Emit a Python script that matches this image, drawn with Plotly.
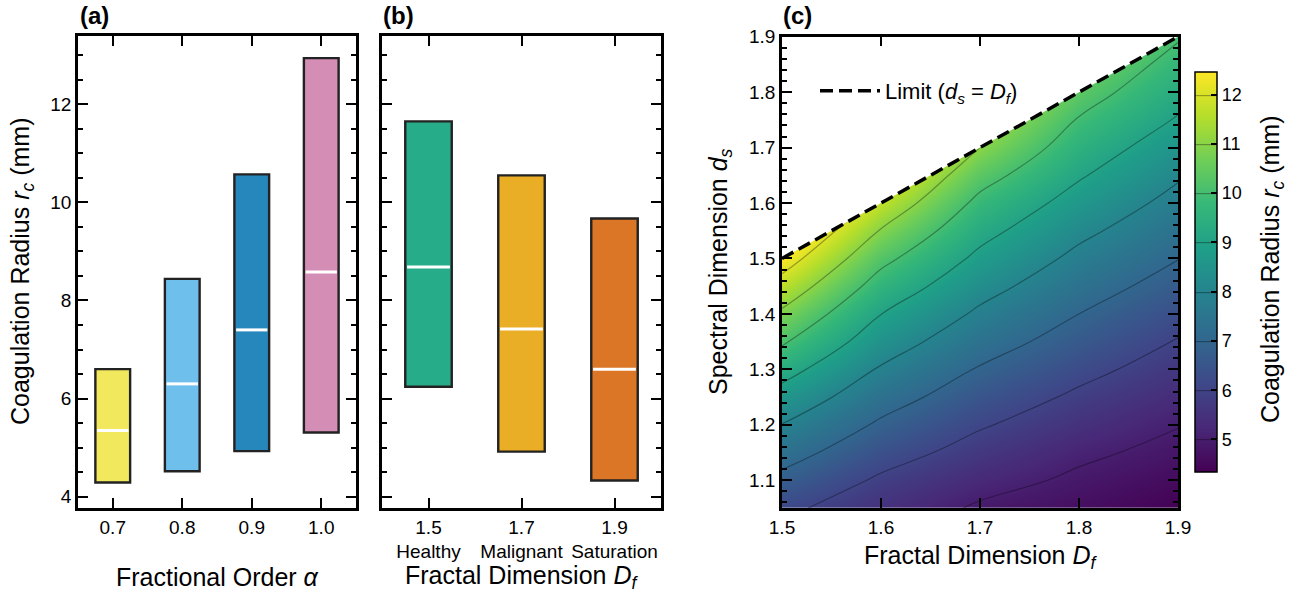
import plotly.graph_objects as go

# ---------------- data ----------------
# Panel (a): fractional order alpha
alpha_vals = [0.7, 0.8, 0.9, 1.0]
alpha_labels = ["0.7", "0.8", "0.9", "1.0"]
alpha_low = [4.29, 4.52, 4.93, 5.31]
alpha_high = [6.60, 8.44, 10.57, 12.94]
alpha_med = [5.35, 6.30, 7.40, 8.58]
alpha_colors = ["rgba(240,228,66,0.85)", "rgba(86,180,233,0.85)",
                "rgba(0,114,178,0.85)", "rgba(204,121,167,0.85)"]

# Panel (b): fractal dimension
df_vals = [1.5, 1.7, 1.9]
df_labels = ["1.5<br>Healthy", "1.7<br>Malignant", "1.9<br>Saturation"]
df_low = [6.24, 4.92, 4.33]
df_high = [11.65, 10.55, 9.67]
df_med = [8.68, 7.42, 6.60]
df_colors = ["rgba(0,158,115,0.85)", "rgba(230,159,0,0.85)", "rgba(213,94,0,0.85)"]

# Panel (c): coagulation radius map r_c(D_f, d_s); the part above d_s = D_f is
# hidden in the chart (values just above the limit are estimated continuations)
grid_df = [1.5, 1.6, 1.7, 1.8, 1.9]
grid_ds = [1.05, 1.10, 1.15, 1.20, 1.25, 1.30, 1.35, 1.40, 1.45,
           1.50, 1.55, 1.60, 1.65, 1.70, 1.75, 1.80, 1.85, 1.90]
rc_grid = [
    [6.18, 5.50, 4.90, 4.65, 4.34],
    [6.77, 5.87, 5.28, 4.87, 4.57],
    [7.37, 6.37, 5.67, 5.14, 4.80],
    [7.98, 6.87, 6.08, 5.50, 5.03],
    [8.64, 7.38, 6.50, 5.86, 5.34],
    [9.35, 7.91, 6.93, 6.23, 5.64],
    [10.12, 8.46, 7.39, 6.62, 5.95],
    [10.85, 9.01, 7.85, 7.00, 6.30],
    [11.63, 9.61, 8.32, 7.39, 6.66],
    [12.46, 10.24, 8.80, 7.79, 7.02],
    [13.25, 10.94, 9.28, 8.20, 7.38],
    [14.05, 11.70, 9.77, 8.65, 7.73],
    [None, 12.40, 10.35, 9.09, 8.10],
    [None, 13.10, 11.00, 9.51, 8.51],
    [None, None, 11.55, 9.94, 8.93],
    [None, None, 12.20, 10.40, 9.31],
    [None, None, None, 10.80, 9.69],
    [None, None, None, 11.25, 10.08],
]
rc_min, rc_max = 4.34, 12.46
limit_df = [1.5, 1.9]

# ---------------- styling ----------------
FONT = "Liberation Sans, Arial, sans-serif"
TICK_FS = 19
TITLE_FS = 25
W, H = 1301, 596
EDGE = "#222222"

fig = go.Figure()

# Panel (a) bars
BW_A = 0.05
fig.add_trace(go.Bar(
    x=alpha_vals, base=alpha_low,
    y=[h - l for h, l in zip(alpha_high, alpha_low)],
    width=BW_A, marker=dict(color=alpha_colors, line=dict(color=EDGE, width=2.4)),
    xaxis="x", yaxis="y", showlegend=False, hoverinfo="skip"))
mx, my = [], []
for c, m in zip(alpha_vals, alpha_med):
    mx += [c - BW_A * 0.45, c + BW_A * 0.45, None]
    my += [m, m, None]
fig.add_trace(go.Scatter(x=mx, y=my, mode="lines", line=dict(color="white", width=3),
                         xaxis="x", yaxis="y", showlegend=False, hoverinfo="skip"))

# Panel (b) bars
BW_B = 0.1
fig.add_trace(go.Bar(
    x=df_vals, base=df_low,
    y=[h - l for h, l in zip(df_high, df_low)],
    width=BW_B, marker=dict(color=df_colors, line=dict(color=EDGE, width=2.4)),
    xaxis="x2", yaxis="y2", showlegend=False, hoverinfo="skip"))
mx, my = [], []
for c, m in zip(df_vals, df_med):
    mx += [c - BW_B * 0.46, c + BW_B * 0.46, None]
    my += [m, m, None]
fig.add_trace(go.Scatter(x=mx, y=my, mode="lines", line=dict(color="white", width=3),
                         xaxis="x2", yaxis="y2", showlegend=False, hoverinfo="skip"))

# Panel (c) contour map
fig.add_trace(go.Contour(
    x=grid_df, y=grid_ds, z=rc_grid, connectgaps=True,
    colorscale="Viridis", zmin=rc_min, zmax=rc_max,
    contours=dict(start=5, end=12, size=1, coloring="heatmap", showlines=True),
    line=dict(color="rgba(0,0,0,0.32)", width=1.2, smoothing=1.3),
    xaxis="x3", yaxis="y3", showlegend=False, hoverinfo="skip",
    colorbar=dict(
        x=1195 / W, xanchor="left", xpad=0, ypad=0,
        y=1 - 272 / H, yanchor="middle",
        len=400, lenmode="pixels", thickness=22, thicknessmode="pixels",
        outlinewidth=1.5, outlinecolor="black",
        tickvals=[5, 6, 7, 8, 9, 10, 11, 12],
        ticks="inside", ticklen=6, tickwidth=1.5, tickcolor="black",
        tickfont=dict(family=FONT, size=18, color="black"),
    ),
))
# blank out the region above the limit d_s = D_f
fig.add_trace(go.Scatter(
    x=[limit_df[0], limit_df[1], limit_df[0], limit_df[0]],
    y=[limit_df[0], limit_df[1], limit_df[1], limit_df[0]],
    fill="toself", fillcolor="white", mode="none",
    xaxis="x3", yaxis="y3", showlegend=False, hoverinfo="skip"))
fig.add_trace(go.Scatter(
    x=limit_df, y=limit_df, mode="lines",
    line=dict(color="black", width=3.5, dash="13px,6px"),
    name="Limit (<i>d<sub>s</sub></i> = <i>D<sub>f</sub></i>)",
    xaxis="x3", yaxis="y3", showlegend=True, hoverinfo="skip"))

# ---------------- axes ----------------
ydom = [1 - 508 / H, 1 - 36 / H]

def ax(**kw):
    base = dict(showline=True, linewidth=2.5, linecolor="black", mirror="ticks",
                ticks="inside", ticklen=10, tickwidth=2, tickcolor="black",
                showgrid=False, zeroline=False, automargin=False,
                tickfont=dict(family=FONT, size=TICK_FS, color="black"))
    base.update(kw)
    return base

minor_y = dict(ticks="inside", dtick=0.5, ticklen=5, tickwidth=1.5,
               tickcolor="black", showgrid=False)

fig.update_layout(
    width=W, height=H,
    margin=dict(l=0, r=0, t=0, b=0, autoexpand=False),
    paper_bgcolor="white", plot_bgcolor="white",
    font=dict(family=FONT, color="black"),
    barmode="overlay",
    xaxis=ax(domain=[78 / W, 356 / W], range=[0.65, 1.05],
             tickvals=alpha_vals, ticktext=alpha_labels, anchor="y"),
    yaxis=ax(domain=ydom, range=[3.77, 13.39], tick0=0, dtick=2,
             minor=minor_y, anchor="x"),
    xaxis2=ax(domain=[382 / W, 661 / W], range=[1.4, 2.0],
              tickvals=df_vals, ticktext=df_labels, anchor="y2"),
    yaxis2=ax(domain=ydom, matches="y", tick0=0, dtick=2, showticklabels=False,
              minor=minor_y, anchor="x2"),
    xaxis3=ax(domain=[782 / W, 1178 / W], range=[1.5, 1.9], tick0=1.5, dtick=0.1,
              anchor="y3"),
    yaxis3=ax(domain=[1 - 508 / H, 1 - 36.7 / H], range=[1.05, 1.9], tick0=1.0, dtick=0.1,
              minor=dict(ticks="inside", dtick=0.02, ticklen=5, tickwidth=1.5,
                         tickcolor="black", showgrid=False),
              anchor="x3"),
    legend=dict(x=815 / W, y=1 - 91 / H, xanchor="left", yanchor="middle",
                itemwidth=60,
                bgcolor="rgba(0,0,0,0)", borderwidth=0,
                font=dict(family=FONT, size=22, color="black")),
)

# ---------------- titles / panel labels ----------------
def ann(text, x, y, size=TITLE_FS, angle=0, bold=False, xanchor="center"):
    fig.add_annotation(text=f"<b>{text}</b>" if bold else text,
                       x=x / W, y=1 - y / H, xref="paper", yref="paper",
                       xanchor=xanchor, yanchor="middle", textangle=angle,
                       showarrow=False, font=dict(family=FONT, size=size, color="black"))

ann("(a)", 78, 16, size=24, bold=True, xanchor="left")
ann("(b)", 381, 16, size=24, bold=True, xanchor="left")
ann("(c)", 781, 16, size=24, bold=True, xanchor="left")
ann("Coagulation Radius <i>r<sub>c</sub></i> (mm)", 22, 272, angle=-90)
ann("Fractional Order <i>α</i>", 217, 577)
ann("Fractal Dimension <i>D<sub>f</sub></i>", 521, 577)
ann("Fractal Dimension <i>D<sub>f</sub></i>", 980, 557)
ann("Spectral Dimension <i>d<sub>s</sub></i>", 720, 272, angle=-90)
ann("Coagulation Radius <i>r<sub>c</sub></i> (mm)", 1272, 270, angle=-90)

fig.write_html("out.html", config={"displayModeBar": False},
               post_script="document.body.style.margin='0px';document.body.style.padding='0px';")
